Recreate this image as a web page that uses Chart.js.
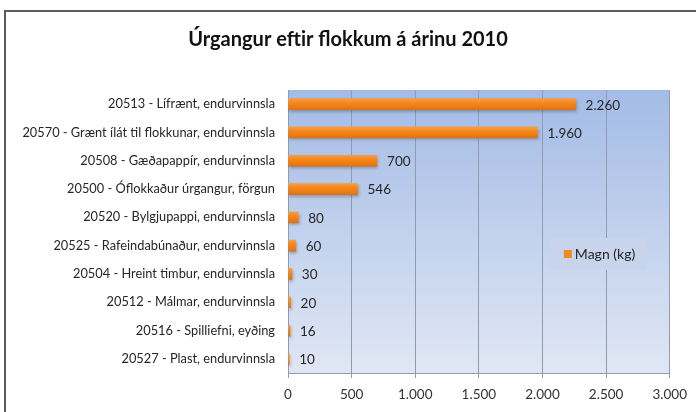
<!DOCTYPE html>
<html>
<head>
<meta charset="utf-8">
<script src="https://cdn.jsdelivr.net/npm/chart.js@4.4.1/dist/chart.umd.min.js"></script>
<style>
  html, body { margin: 0; padding: 0; background: #fff; }
  #wrap { position: relative; width: 696px; height: 412px; overflow: hidden; }
  #frame { position: absolute; left: 4px; top: 10px; width: 720px; height: 420px;
           border-left: 2px solid #5c5c5c; border-top: 2px solid #5c5c5c; box-sizing: border-box; }
  canvas { position: absolute; left: 0; top: 0; }
</style>
</head>
<body>
<div id="wrap">
  <div id="frame"></div>
  <canvas id="c" width="696" height="412"></canvas>
</div>
<script>
const titleText = 'Úrgangur eftir flokkum á árinu 2010';
const categories = [
  '20513 - Lífrænt, endurvinnsla',
  '20570 - Grænt ílát til flokkunar, endurvinnsla',
  '20508 - Gæðapappír, endurvinnsla',
  '20500 - Óflokkaður úrgangur, förgun',
  '20520 - Bylgjupappi, endurvinnsla',
  '20525 - Rafeindabúnaður, endurvinnsla',
  '20504 - Hreint timbur, endurvinnsla',
  '20512 - Málmar, endurvinnsla',
  '20516 - Spilliefni, eyðing',
  '20527 - Plast, endurvinnsla'
];
const seriesName = 'Magn (kg)';
const values = [2260, 1960, 700, 546, 80, 60, 30, 20, 16, 10];
const xMin = 0, xMax = 3000, xStep = 500;

const FONT = "Lato, 'Open Sans', sans-serif";
const fmt = v => String(v).replace(/\B(?=(\d{3})+(?!\d))/g, '.');

function barColor(ctx) {
  const chart = ctx.chart;
  const ys = chart.scales && chart.scales.y;
  if (!chart.chartArea || !ys || ctx.dataIndex === undefined) return '#f28a20';
  const yc = ys.getPixelForValue(ctx.dataIndex);
  const g = chart.ctx.createLinearGradient(0, yc - 6, 0, yc + 6);
  g.addColorStop(0, '#f6a04c');
  g.addColorStop(0.35, '#f58a1f');
  g.addColorStop(0.7, '#ee7d12');
  g.addColorStop(1, '#d8701a');
  return g;
}

const bgPlugin = {
  id: 'plotBg',
  beforeDraw(chart) {
    const a = chart.chartArea, c = chart.ctx;
    const g = c.createLinearGradient(0, a.top, 0, a.bottom);
    g.addColorStop(0, '#a3bbe6');
    g.addColorStop(1, '#e0e7f4');
    c.save();
    c.fillStyle = g;
    c.fillRect(a.left, a.top, a.right - a.left, a.bottom - a.top);
    c.restore();
  }
};

const shadowPlugin = {
  id: 'barShadow',
  beforeDatasetsDraw(chart) {
    const c = chart.ctx;
    c.save();
    c.shadowColor = 'rgba(60,60,60,0.35)';
    c.shadowBlur = 3;
    c.shadowOffsetX = 1;
    c.shadowOffsetY = 2;
  },
  afterDatasetsDraw(chart) {
    chart.ctx.restore();
  }
};

const labelPlugin = {
  id: 'valueLabels',
  afterDatasetsDraw(chart) {
    const c = chart.ctx;
    const meta = chart.getDatasetMeta(0);
    c.save();
    c.font = '13.5px ' + FONT;
    c.fillStyle = '#262626';
    c.textAlign = 'left';
    c.textBaseline = 'middle';
    meta.data.forEach((el, i) => {
      c.fillText(fmt(chart.data.datasets[0].data[i]), el.x + 10, el.y + 1);
    });
    c.restore();
  }
};

const titleLegendPlugin = {
  id: 'titleLegend',
  afterDraw(chart) {
    const c = chart.ctx;
    c.save();
    // title
    c.font = 'bold 20px ' + FONT;
    c.fillStyle = '#111';
    c.textAlign = 'center';
    c.textBaseline = 'middle';
    c.fillText(titleText, 348, 40);
    // legend inside plot area
    const xs = chart.scales.x;
    const bx = xs.getPixelForValue(2050), by = 238, bw = 98, bh = 32;
    c.fillStyle = '#c7d4eb';
    c.fillRect(bx, by, bw, bh);
    c.fillStyle = '#f28a20';
    c.fillRect(bx + 15, by + 12, 8, 8);
    c.font = '14px ' + FONT;
    c.fillStyle = '#262626';
    c.textAlign = 'left';
    c.fillText(seriesName, bx + 26, by + 16.5);
    c.restore();
  }
};

new Chart(document.getElementById('c'), {
  type: 'bar',
  data: {
    labels: categories,
    datasets: [{
      label: seriesName,
      data: values,
      backgroundColor: barColor,
      borderWidth: 0,
      barThickness: 11
    }]
  },
  options: {
    indexAxis: 'y',
    responsive: false,
    animation: false,
    layout: { padding: { top: 90, right: 23, left: 0, bottom: 0 } },
    plugins: {
      legend: { display: false },
      title: { display: false },
      tooltip: { enabled: false }
    },
    scales: {
      x: {
        min: xMin, max: xMax,
        ticks: {
          stepSize: xStep,
          callback: v => fmt(v),
          color: '#333',
          font: { family: FONT, size: 13.5 },
          padding: 9,
          maxRotation: 0
        },
        grid: { color: '#8f9bb0', lineWidth: 1, tickLength: 5, drawTicks: true },
        border: { color: '#8f9bb0', width: 1 },
        afterFit(scale) { scale.height = 39; }
      },
      y: {
        ticks: {
          color: '#262626',
          font: { family: FONT, size: 12.8 },
          padding: 13,
          autoSkip: false
        },
        grid: { display: false, drawTicks: false },
        border: { display: true, color: '#8f9bb0', width: 1 },
        afterFit(scale) { scale.width = 288; }
      }
    }
  },
  plugins: [bgPlugin, shadowPlugin, labelPlugin, titleLegendPlugin]
});
</script>
</body>
</html>
